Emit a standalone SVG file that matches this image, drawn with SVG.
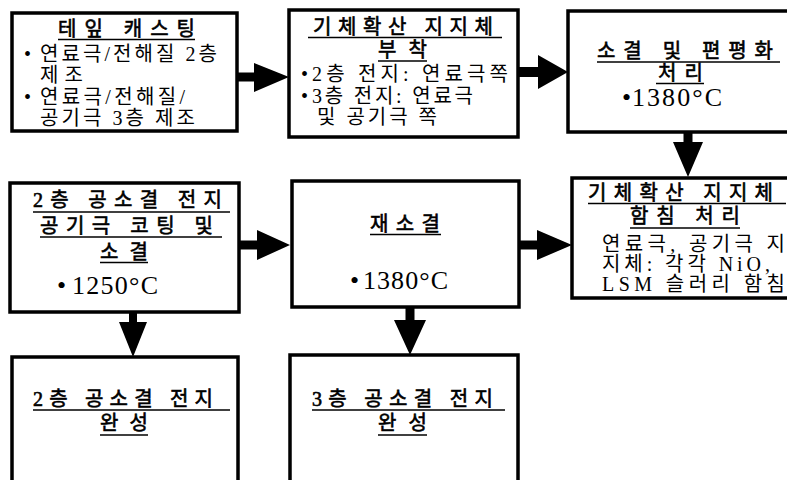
<svg xmlns="http://www.w3.org/2000/svg" width="787" height="480" viewBox="0 0 787 480">
<style>
.box{fill:#fff;stroke:#000;stroke-width:3.5}
text{font-family:"Liberation Serif","Noto Sans CJK KR",serif;font-size:20px;fill:#000}
.t{stroke:#000;stroke-width:0.6}
.n{font-size:26px}
.u{stroke:#000;stroke-width:1.5}
.arr{fill:#000;stroke:none}
</style>
<rect width="787" height="480" fill="#fff"/>
<g id="node-tape-casting">
<rect class="box" x="12" y="13" width="225" height="118"/>
<text class="t" x="58" y="36" textLength="137" lengthAdjust="spacing">테잎 캐스팅</text>
<line class="u" x1="58" y1="39.5" x2="195" y2="39.5"/>
<text x="24" y="61">•</text>
<text x="40" y="61" textLength="177" lengthAdjust="spacing">연료극/전해질 2층</text>
<text x="40" y="82" textLength="43" lengthAdjust="spacing">제조</text>
<text x="24" y="104">•</text>
<text x="40" y="104" textLength="145" lengthAdjust="spacing">연료극/전해질/</text>
<text x="40" y="125" textLength="155" lengthAdjust="spacing">공기극 3층 제조</text>
</g>
<g id="node-support-attach">
<rect class="box" x="289" y="10" width="229" height="127"/>
<text class="t" x="313" y="34" textLength="180" lengthAdjust="spacing">기체확산 지지체</text>
<line class="u" x1="308" y1="37.5" x2="502" y2="37.5"/>
<text class="t" x="378" y="57" textLength="49" lengthAdjust="spacing">부착</text>
<line class="u" x1="378" y1="61" x2="427" y2="61"/>
<text x="301" y="81">•</text>
<text x="312" y="81" textLength="196" lengthAdjust="spacing">2층 전지: 연료극쪽</text>
<text x="301" y="103">•</text>
<text x="312" y="103" textLength="161" lengthAdjust="spacing">3층 전지: 연료극</text>
<text x="317" y="124" textLength="120" lengthAdjust="spacing">및 공기극 쪽</text>
</g>
<g id="node-sinter-flatten">
<rect class="box" x="568" y="11" width="230" height="121"/>
<text class="t" x="597" y="58" textLength="176" lengthAdjust="spacing">소결 및 편평화</text>
<line class="u" x1="597" y1="62" x2="780" y2="62"/>
<text class="t" x="658" y="80" textLength="45" lengthAdjust="spacing">처리</text>
<line class="u" x1="656" y1="83.5" x2="704" y2="83.5"/>
<text class="n" x="622" y="106">•</text>
<text class="n" x="632" y="106" textLength="90" lengthAdjust="spacing">1380°C</text>
</g>
<g id="node-impregnation">
<rect class="box" x="572" y="178" width="230" height="120"/>
<text class="t" x="588" y="200" textLength="185" lengthAdjust="spacing">기체확산 지지체</text>
<line class="u" x1="588" y1="203.5" x2="786" y2="203.5"/>
<text class="t" x="630" y="223" textLength="110" lengthAdjust="spacing">함침 처리</text>
<line class="u" x1="630" y1="228" x2="740" y2="228"/>
<text x="602" y="251" textLength="183" lengthAdjust="spacing">연료극, 공기극 지</text>
<text x="602" y="271" textLength="168" lengthAdjust="spacing">지체: 각각 NiO,</text>
<text x="602" y="291" textLength="183" lengthAdjust="spacing">LSM 슬러리 함침</text>
</g>
<g id="node-2layer-coating">
<rect class="box" x="10" y="183" width="229" height="129"/>
<text class="t" x="33" y="207" textLength="189" lengthAdjust="spacing">2층 공소결 전지</text>
<line class="u" x1="33" y1="212" x2="230" y2="212"/>
<text class="t" x="40" y="233" textLength="173" lengthAdjust="spacing">공기극 코팅 및</text>
<line class="u" x1="40" y1="237" x2="222" y2="237"/>
<text class="t" x="100" y="259" textLength="48" lengthAdjust="spacing">소결</text>
<line class="u" x1="100" y1="262.5" x2="148" y2="262.5"/>
<text class="n" x="57" y="294">•</text>
<text class="n" x="72" y="294" textLength="86" lengthAdjust="spacing">1250°C</text>
</g>
<g id="node-resinter">
<rect class="box" x="292" y="181" width="227" height="126"/>
<text class="t" x="370" y="231" textLength="70" lengthAdjust="spacing">재소결</text>
<line class="u" x1="370" y1="234.5" x2="441" y2="234.5"/>
<text class="n" x="350" y="289">•</text>
<text class="n" x="363" y="289" textLength="85" lengthAdjust="spacing">1380°C</text>
</g>
<g id="node-2layer-done">
<rect class="box" x="12" y="357" width="226" height="140"/>
<text class="t" x="33" y="406" textLength="180" lengthAdjust="spacing">2층 공소결 전지</text>
<line class="u" x1="33" y1="410" x2="230" y2="410"/>
<text class="t" x="100" y="430" textLength="48" lengthAdjust="spacing">완성</text>
<line class="u" x1="100" y1="435" x2="148" y2="435"/>
</g>
<g id="node-3layer-done">
<rect class="box" x="290" y="355" width="228" height="140"/>
<text class="t" x="312" y="406" textLength="181" lengthAdjust="spacing">3층 공소결 전지</text>
<line class="u" x1="312" y1="410" x2="505" y2="410"/>
<text class="t" x="378" y="430" textLength="49" lengthAdjust="spacing">완성</text>
<line class="u" x1="378" y1="435" x2="427" y2="435"/>
</g>
<g id="connectors">
<path class="arr" d="M237,72.5 H254 V63 L289,77 L254,92 V81.5 H237 Z"/>
<path class="arr" d="M518,67 H538 V55 L568,72 L538,89 V77 H518 Z"/>
<path class="arr" d="M683.5,132 V142 H673 L688,177 L703,142 H692.5 V132 Z"/>
<path class="arr" d="M239,240.5 H257 V230 L290,245 L257,260 V249.5 H239 Z"/>
<path class="arr" d="M519,240.5 H537 V230 L572,245 L537,260 V249.5 H519 Z"/>
<path class="arr" d="M129,312 V322 H119 L133,357 L147,322 H137 V312 Z"/>
<path class="arr" d="M405.5,307 V320 H394 L410,355 L426,320 H414.5 V307 Z"/>
</g>
</svg>
